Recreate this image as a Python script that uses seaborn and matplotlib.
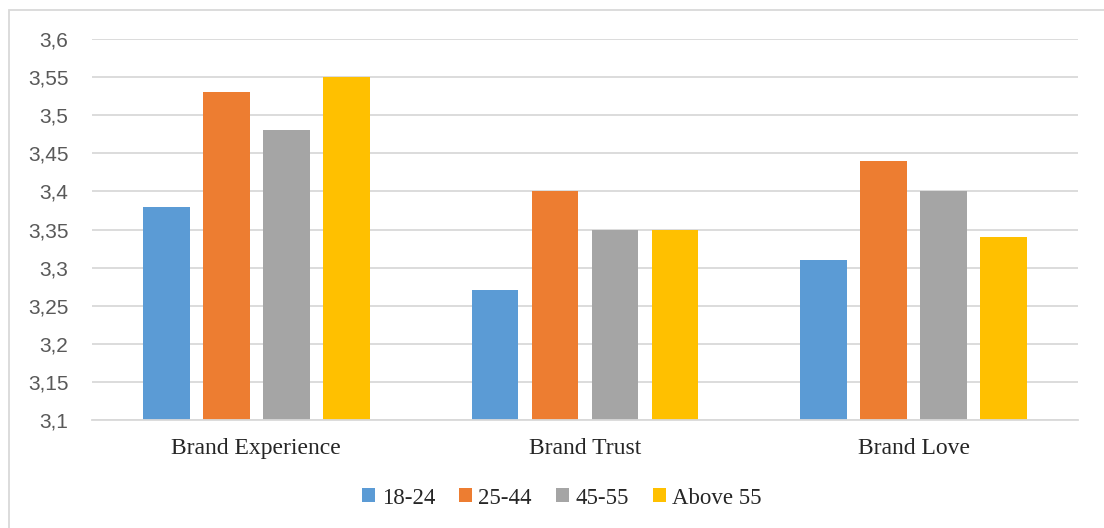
import pandas as pd
import matplotlib.pyplot as plt
import matplotlib.ticker as ticker
from matplotlib.patches import Rectangle
import seaborn as sns

# data
categories = ["Brand Experience", "Brand Trust", "Brand Love"]
groups = ["18-24", "25-44", "45-55", "Above 55"]
vals_18_24 = [3.38, 3.27, 3.31]
vals_25_44 = [3.53, 3.40, 3.44]
vals_45_55 = [3.48, 3.35, 3.40]
vals_above_55 = [3.55, 3.35, 3.34]
colors = ["#5B9BD5", "#ED7D31", "#A5A5A5", "#FFC000"]

df = pd.DataFrame({
    "category": categories * 4,
    "group": [g for g in groups for _ in categories],
    "value": vals_18_24 + vals_25_44 + vals_45_55 + vals_above_55,
})

sns.set_style("white")
serif = ["Liberation Serif", "DejaVu Serif"]
sans = ["Liberation Sans", "DejaVu Sans"]

fig = plt.figure(figsize=(11.04, 5.28), dpi=100)
ax = fig.add_axes([92 / 1104, 1 - 420 / 528, 986 / 1104, 381 / 528])

sns.barplot(data=df, x="category", y="value", hue="group", order=categories,
            hue_order=groups, palette=colors, width=0.73, gap=0.22,
            saturation=1, linewidth=0, ax=ax, legend=True)

ax.set_ylim(3.1, 3.6)
ax.set_xlim(-0.5, 2.5)
ax.yaxis.set_major_locator(ticker.MultipleLocator(0.05))
ax.yaxis.set_major_formatter(ticker.FuncFormatter(
    lambda v, p: f"{v:.2f}".rstrip("0").rstrip(".").replace(".", ",")))
ax.grid(axis="y", color="#d9d9d9", linewidth=1.3)
ax.set_axisbelow(True)
for s in ["left", "right", "top"]:
    ax.spines[s].set_visible(False)
ax.spines["bottom"].set_color("#d9d9d9")
ax.spines["bottom"].set_linewidth(1.3)
ax.tick_params(axis="both", length=0)
ax.tick_params(axis="y", pad=17, colors="#595959", labelsize=15)
ax.tick_params(axis="x", pad=13, labelsize=17)
for lab in ax.get_yticklabels():
    lab.set_family(sans)
for lab in ax.get_xticklabels():
    lab.set_family(serif)
ax.set_xlabel("")
ax.set_ylabel("")

ax.legend(loc="center", bbox_to_anchor=(562 / 1104, 1 - 498 / 528), bbox_transform=fig.transFigure,
          ncol=4, frameon=False, handlelength=0.55, handleheight=0.55,
          handletextpad=0.3, columnspacing=1.05,
          prop={"family": serif, "size": 16.5})

# thin grey frame around the chart area
fig.patches.append(Rectangle((9 / 1104, -0.1), 1.2, 1 - 10 / 528 + 0.1,
                             transform=fig.transFigure, fill=False,
                             edgecolor="#d9d9d9", linewidth=1.3))

fig.savefig("out.png", dpi=100)
